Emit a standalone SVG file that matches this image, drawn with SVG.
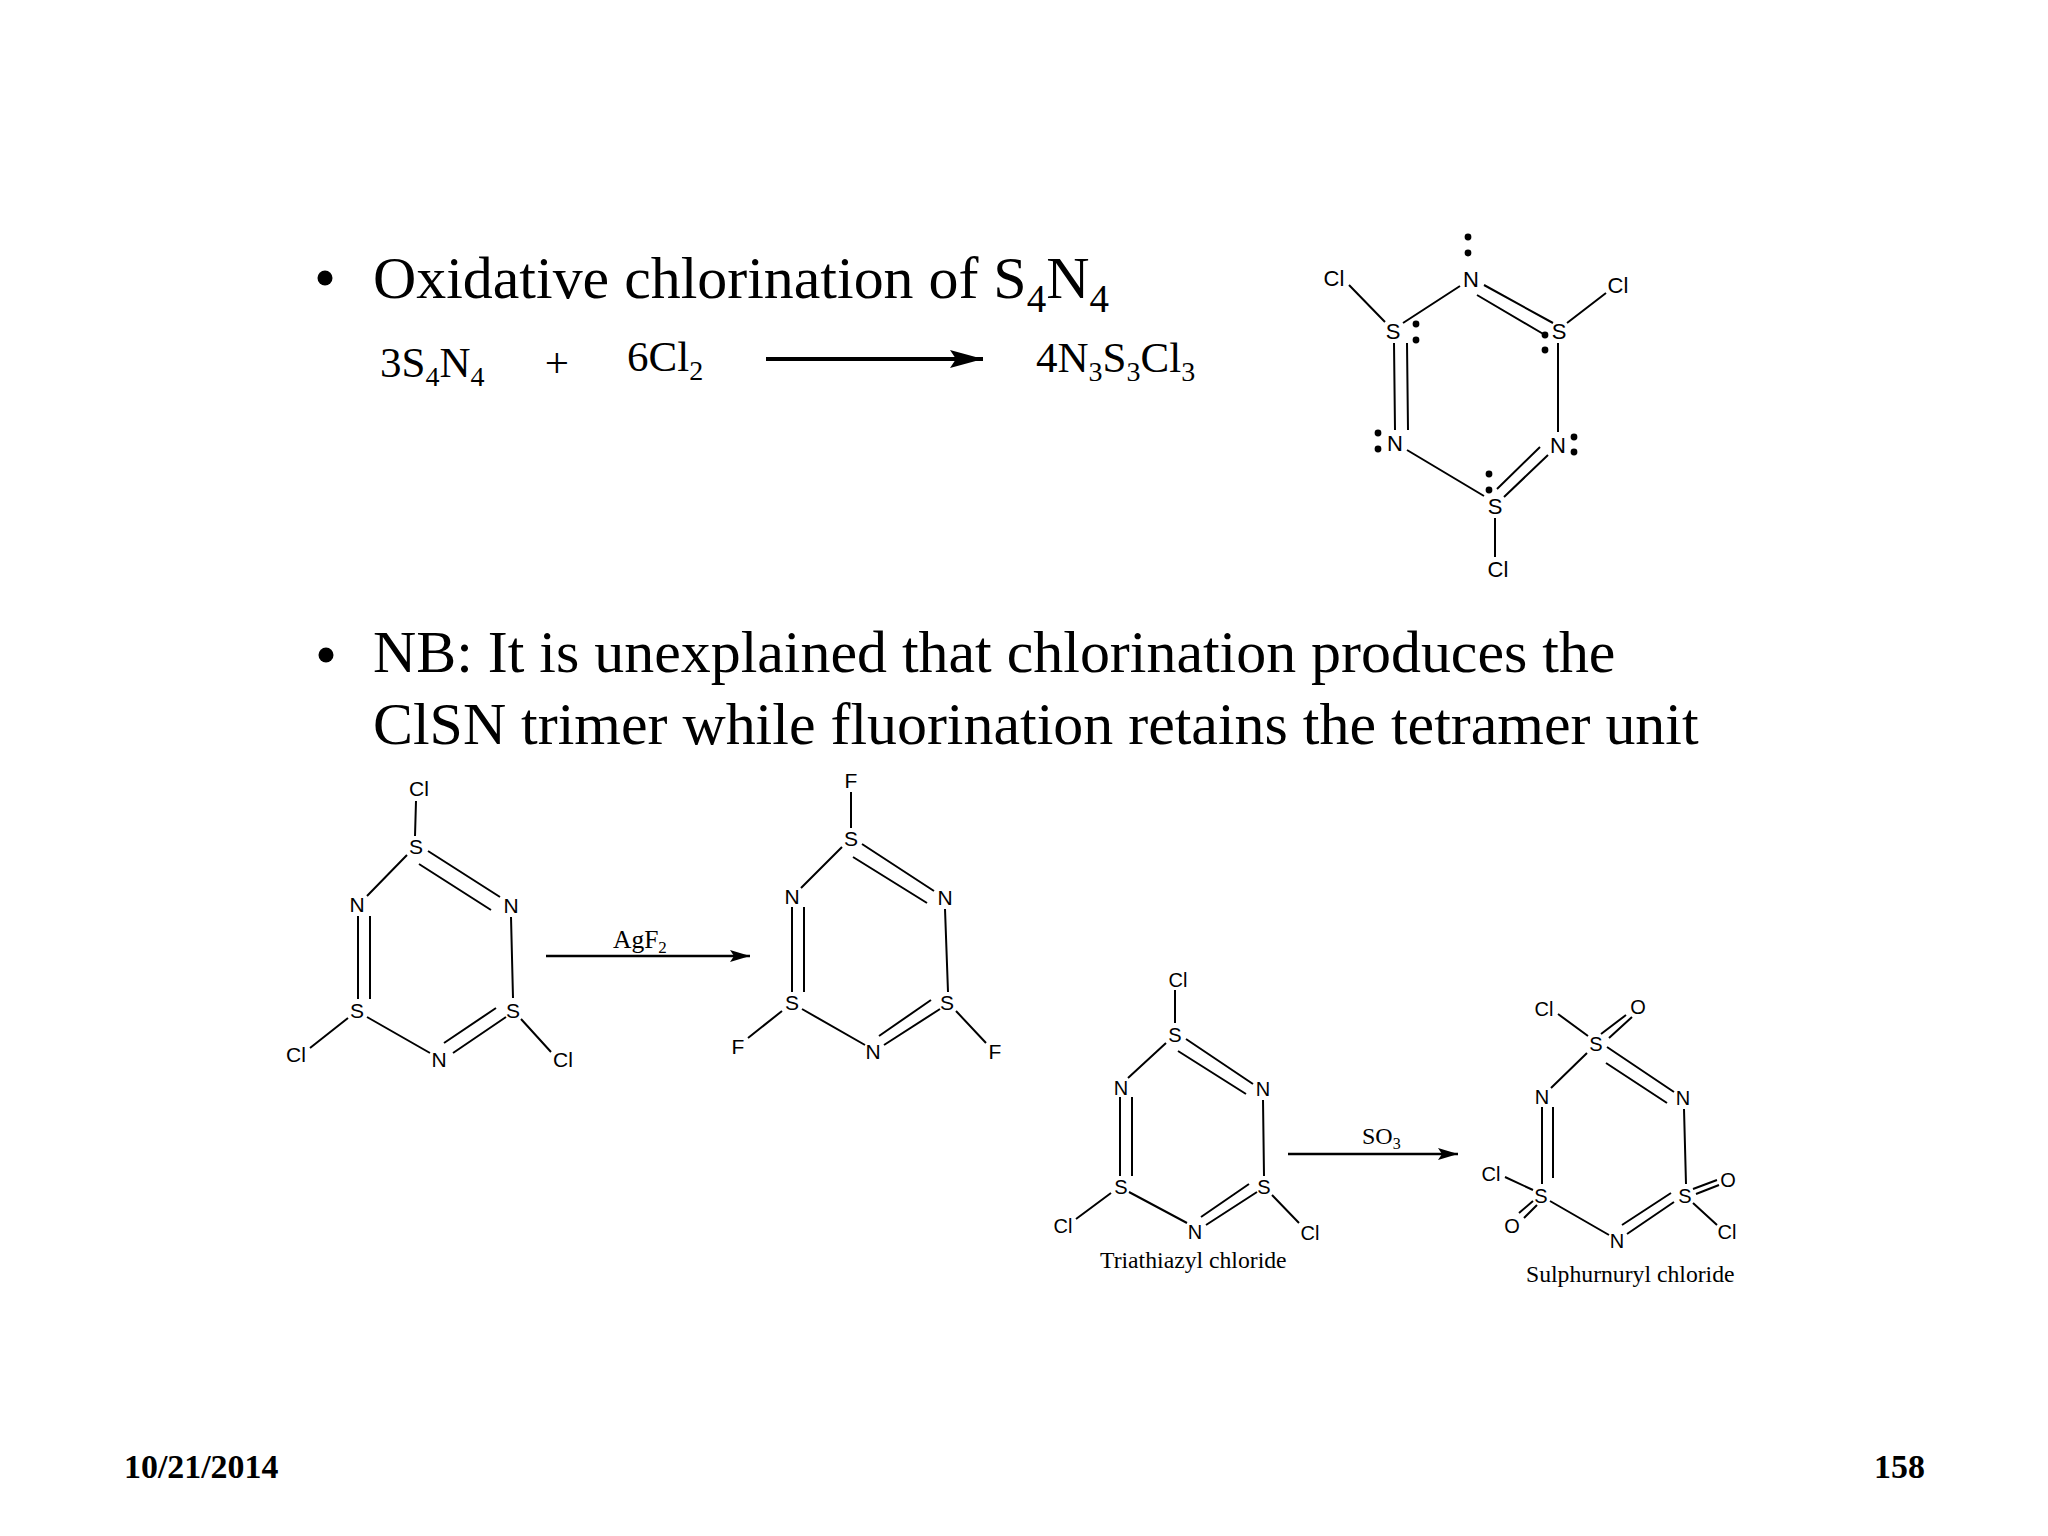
<svg xmlns="http://www.w3.org/2000/svg" width="2048" height="1536" viewBox="0 0 2048 1536">
<style>
text{font-family:"Liberation Serif","Times New Roman",serif;fill:#000}
.h{font-size:59.9px}
.e{font-size:43px}
.r{font-size:24px}
.c{font-size:23.7px}
.f{font-size:33.9px;font-weight:bold}
.a text{font-family:"Liberation Sans",Arial,sans-serif;text-anchor:middle}
.a1 text{font-size:22px}.a2 text{font-size:21px}.a3 text{font-size:20px}
.b{stroke:#000;stroke-width:2;fill:none;stroke-linecap:butt}
</style>
<defs>
<marker id="ah" markerUnits="userSpaceOnUse" markerWidth="33" markerHeight="18" refX="33" refY="9" orient="auto"><path d="M0 0L33 9L0 18L6 9Z" fill="#000"/></marker>
<marker id="as" markerUnits="userSpaceOnUse" markerWidth="20" markerHeight="12" refX="20" refY="6" orient="auto"><path d="M0 0L20 6L0 12L4 6Z" fill="#000"/></marker>
</defs>
<rect width="2048" height="1536" fill="#fff"/>
<g id="slide-text">
<circle cx="325" cy="278" r="7.5"/>
<text class="h" x="373" y="298">Oxidative chlorination of S<tspan font-size="39" dy="14">4</tspan><tspan dy="-14">N</tspan><tspan font-size="39" dy="14">4</tspan></text>
<circle cx="326" cy="655" r="7.5"/>
<text class="h" x="373" y="672">NB: It is unexplained that chlorination produces the</text>
<text class="h" x="373" y="744">ClSN trimer while fluorination retains the tetramer unit</text>
<text class="f" x="124" y="1478">10/21/2014</text>
<text class="f" x="1874" y="1478">158</text>
</g>
<g id="equation">
<text class="e" x="380" y="377">3S<tspan font-size="28" dy="9">4</tspan><tspan dy="-9">N</tspan><tspan font-size="28" dy="9">4</tspan></text>
<text class="e" x="557" y="377" text-anchor="middle">+</text>
<text class="e" x="627" y="371">6Cl<tspan font-size="28" dy="9">2</tspan></text>
<text class="e" x="1036" y="372">4N<tspan font-size="28" dy="9">3</tspan><tspan dy="-9">S</tspan><tspan font-size="28" dy="9">3</tspan><tspan dy="-9">Cl</tspan><tspan font-size="28" dy="9">3</tspan></text>
</g>
<g id="connectors">
<path d="M766 359H983" stroke="#000" stroke-width="4" marker-end="url(#ah)"/>
<path d="M546 956H750" stroke="#000" stroke-width="2.5" marker-end="url(#as)"/>
<path d="M1288 1154H1458" stroke="#000" stroke-width="2.5" marker-end="url(#as)"/>
</g>
<g id="reagents">
<text x="613" y="948" style="font-size:25.5px">AgF<tspan font-size="17" dy="5">2</tspan></text>
<text class="r" x="1362" y="1144">SO<tspan font-size="16" dy="5">3</tspan></text>
</g>
<g id="lewis-trimer">
<path class="b" d="M1349 285L1385 322M1403 323L1460 286M1484 285L1553 323M1477 295L1545 335M1567 323L1606 293M1558 343V432M1540 447L1497 489M1548 455L1504 497M1484 496L1407 450M1394 343L1395 430M1407 343L1408 430M1495 518V557"/>
<g class="a a1">
<text x="1334" y="286">Cl</text><text x="1471" y="287">N</text><text x="1618" y="293">Cl</text>
<text x="1393" y="339">S</text><text x="1559" y="339">S</text>
<text x="1395" y="451">N</text><text x="1558" y="453">N</text>
<text x="1495" y="514">S</text><text x="1498" y="577">Cl</text>
</g>
<g fill="#000">
<circle cx="1468" cy="237" r="3.4"/><circle cx="1468" cy="253" r="3.4"/>
<circle cx="1416" cy="324" r="3.4"/><circle cx="1416" cy="340" r="3.4"/>
<circle cx="1545" cy="335" r="3.4"/><circle cx="1545" cy="350" r="3.4"/>
<circle cx="1378" cy="433" r="3.4"/><circle cx="1378" cy="449" r="3.4"/>
<circle cx="1574" cy="437" r="3.4"/><circle cx="1574" cy="452" r="3.4"/>
<circle cx="1489" cy="474" r="3.4"/><circle cx="1489" cy="490" r="3.4"/>
</g>
</g>
<g id="chloride-trimer-a">
<path class="b" d="M416 801L415 836M407 855L367 896M428 851L500 897M419 864L491 910M358 916V999M370 916V999M511 917L513 998M496 1008L444 1043M506 1017L453 1053M367 1017L430 1053M348 1018L310 1048M521 1019L551 1052"/>
<g class="a a2">
<text x="419" y="796">Cl</text><text x="416" y="854">S</text><text x="357" y="912">N</text><text x="511" y="913">N</text>
<text x="357" y="1018">S</text><text x="513" y="1018">S</text><text x="439" y="1067">N</text><text x="296" y="1062">Cl</text><text x="563" y="1067">Cl</text>
</g>
</g>
<g id="fluoride-trimer">
<path class="b" d="M851 792V828M842 847L801 888M862 844L934 891M853 857L927 903M792 907V992M804 907V992M945 909L948 992M931 1000L879 1036M940 1009L884 1045M802 1009L865 1045M782 1011L748 1038M956 1011L986 1043"/>
<g class="a a2">
<text x="851" y="788">F</text><text x="851" y="846">S</text><text x="792" y="904">N</text><text x="945" y="905">N</text>
<text x="792" y="1010">S</text><text x="947" y="1010">S</text><text x="873" y="1059">N</text><text x="738" y="1054">F</text><text x="995" y="1059">F</text>
</g>
</g>
<g id="chloride-trimer-b">
<path class="b" d="M1175 990V1023M1166 1043L1128 1078M1186 1039L1253 1084M1178 1051L1246 1094M1120 1097V1176M1132 1097V1176M1263 1100L1264 1176M1249 1184L1201 1217M1257 1192L1206 1225M1129 1192L1187 1223M1111 1193L1076 1219M1272 1195L1299 1223"/>
<g class="a a3">
<text x="1178" y="987">Cl</text><text x="1175" y="1042">S</text><text x="1121" y="1095">N</text><text x="1263" y="1096">N</text>
<text x="1121" y="1194">S</text><text x="1264" y="1194">S</text><text x="1195" y="1239">N</text><text x="1063" y="1233">Cl</text><text x="1310" y="1240">Cl</text>
</g>
<text class="c" x="1100" y="1268">Triathiazyl chloride</text>
</g>
<g id="sulphuryl-trimer">
<path class="b" d="M1558 1014L1588 1036M1601 1034L1626 1015M1609 1038L1632 1017M1587 1053L1551 1088M1607 1047L1674 1092M1606 1063L1667 1103M1542 1107V1184M1553 1107V1178M1684 1109L1686 1184M1671 1193L1622 1225M1674 1202L1627 1234M1550 1201L1609 1235M1505 1177L1533 1190M1533 1201L1519 1213M1537 1205L1524 1218M1693 1189L1717 1180M1696 1194L1719 1185M1693 1203L1717 1225"/>
<g class="a a3">
<text x="1544" y="1016">Cl</text><text x="1638" y="1014">O</text><text x="1596" y="1051">S</text>
<text x="1542" y="1104">N</text><text x="1683" y="1105">N</text>
<text x="1541" y="1203">S</text><text x="1685" y="1203">S</text><text x="1617" y="1248">N</text>
<text x="1491" y="1181">Cl</text><text x="1512" y="1233">O</text><text x="1728" y="1187">O</text><text x="1727" y="1239">Cl</text>
</g>
<text class="c" x="1526" y="1282">Sulphurnuryl chloride</text>
</g>
</svg>
